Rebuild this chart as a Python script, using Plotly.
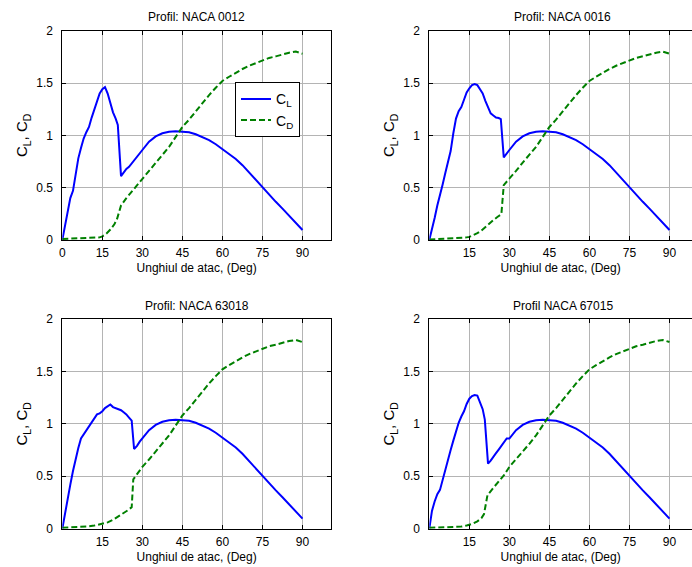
import plotly.graph_objects as go
from plotly.subplots import make_subplots

# ---------------- data ----------------
titles = ["Profil: NACA 0012", "Profil: NACA 0016", "Profil: NACA 63018", "Profil NACA 67015"]

# common post-stall part (alpha >= 30 deg)
alpha_tail = [30, 32.5, 35, 37.5, 40, 42.5, 45, 47.5, 50, 52.5, 55, 57.5, 60, 62.5, 65, 67.5,
              70, 72.5, 75, 77.5, 80, 82.5, 85, 87.5, 90]
cl_tail = [0.86, 0.94, 0.99, 1.02, 1.035, 1.04, 1.035, 1.03, 1.01, 0.985, 0.955, 0.915, 0.87,
           0.825, 0.775, 0.715, 0.645, 0.57, 0.495, 0.43, 0.365, 0.30, 0.235, 0.165, 0.096]
cd_tail = [0.59, 0.66, 0.74, 0.81, 0.89, 0.985, 1.08, 1.15, 1.23, 1.31, 1.385, 1.455, 1.52,
           1.56, 1.60, 1.634, 1.665, 1.69, 1.72, 1.74, 1.755, 1.775, 1.79, 1.80, 1.78]

# NACA 0012
alpha_cl_0012 = [0, 1, 2, 3, 4, 5, 6, 7, 8, 9, 10, 11, 12, 13, 14, 15, 16, 17, 18, 19, 20, 20.8,
                 22, 23, 24, 25, 26, 27, 28, 29]
cl_0012 = [0, 0.14, 0.28, 0.40, 0.47, 0.65, 0.78, 0.88, 0.97, 1.03, 1.08, 1.17, 1.25, 1.33, 1.40,
           1.44, 1.46, 1.40, 1.30, 1.22, 1.16, 1.10, 0.61, 0.65, 0.68, 0.70, 0.73, 0.77, 0.80, 0.83]
alpha_cd_0012 = [0, 3, 6, 9, 12, 14, 15, 16.5, 18, 19.5, 20.5, 21.2, 22, 24, 26, 28]
cd_0012 = [0.01, 0.012, 0.015, 0.018, 0.02, 0.025, 0.035, 0.06, 0.10, 0.15, 0.20, 0.26, 0.33,
           0.40, 0.46, 0.52]

# NACA 0016
alpha_cl_0016 = [0, 1, 2, 3, 4, 5, 6, 7, 8, 9, 10, 11, 12, 13, 14, 15, 16, 17, 18, 19, 20, 21,
                 22, 23, 24, 25, 26, 26.8, 27.9, 29]
cl_0016 = [0, 0.10, 0.21, 0.33, 0.42, 0.53, 0.64, 0.75, 0.85, 1.02, 1.16, 1.23, 1.27, 1.34, 1.41,
           1.45, 1.48, 1.49, 1.48, 1.44, 1.40, 1.33, 1.26, 1.21, 1.19, 1.17, 1.165, 1.155, 0.79, 0.83]
alpha_cd_0016 = [0, 3, 6, 9, 12, 14, 15, 16.5, 18, 19.5, 21, 22.5, 24, 25.5, 27, 27.9, 29]
cd_0016 = [0.005, 0.008, 0.012, 0.018, 0.02, 0.025, 0.03, 0.045, 0.065, 0.09, 0.125, 0.16, 0.19,
           0.22, 0.245, 0.525, 0.555]

# NACA 63018
alpha_cl_63018 = [0, 1, 2, 3, 4, 5, 6, 7, 8, 9, 10, 11, 12, 13, 14, 15, 16, 17, 18, 19, 20, 21,
                  22, 23, 24, 25, 26, 26.9, 28, 29]
cl_63018 = [0, 0.15, 0.30, 0.42, 0.55, 0.67, 0.77, 0.86, 0.90, 0.93, 0.97, 1.01, 1.05, 1.09, 1.10,
            1.12, 1.15, 1.17, 1.185, 1.16, 1.15, 1.14, 1.13, 1.11, 1.09, 1.06, 1.03, 0.76, 0.79, 0.83]
alpha_cd_63018 = [0, 3, 6, 9, 12, 15, 17, 19, 21, 23, 24.5, 26, 26.6, 28]
cd_63018 = [0.01, 0.012, 0.015, 0.02, 0.03, 0.045, 0.06, 0.085, 0.115, 0.15, 0.175, 0.205, 0.47,
            0.52]

# NACA 67015
alpha_cl_67015 = [0, 1, 2, 3, 4, 5, 6, 7, 8, 9, 10, 11, 12, 13, 14, 15, 16, 17, 18, 19, 20, 20.8,
                  22, 23, 24, 25, 26, 27, 28, 29]
cl_67015 = [0, 0.17, 0.26, 0.33, 0.37, 0.47, 0.56, 0.66, 0.75, 0.84, 0.93, 1.01, 1.07, 1.12, 1.19,
            1.24, 1.265, 1.275, 1.27, 1.21, 1.14, 1.04, 0.62, 0.65, 0.69, 0.72, 0.755, 0.79, 0.83, 0.86]
alpha_cd_67015 = [0, 3, 6, 9, 12, 14, 15, 16.5, 18, 19.5, 20.5, 21.2, 21.8, 24, 26, 28]
cd_67015 = [0.008, 0.01, 0.015, 0.018, 0.02, 0.03, 0.038, 0.05, 0.07, 0.1, 0.14, 0.22, 0.32, 0.39,
            0.45, 0.51]

x_ticks_first = [0, 15, 30, 45, 60, 75, 90]
x_ticks_other = [15, 30, 45, 60, 75, 90]
y_ticks = [0, 0.5, 1, 1.5, 2]
y_tick_text = ["0", "0.5", "1", "1.5", "2"]

profiles = [
    (alpha_cl_0012, cl_0012, alpha_cd_0012, cd_0012),
    (alpha_cl_0016, cl_0016, alpha_cd_0016, cd_0016),
    (alpha_cl_63018, cl_63018, alpha_cd_63018, cd_63018),
    (alpha_cl_67015, cl_67015, alpha_cd_67015, cd_67015),
]

# ---------------- figure ----------------
W, H = 692, 567
FONT = "Liberation Sans, Arial, sans-serif"
fig = make_subplots(rows=2, cols=2)

positions = [(1, 1), (1, 2), (2, 1), (2, 2)]
for i, ((acl, cl, acd, cd), (r, c)) in enumerate(zip(profiles, positions)):
    fig.add_trace(go.Scatter(x=acl + alpha_tail, y=cl + cl_tail, mode="lines",
                             line=dict(color="#0000ff", width=2),
                             name="C<sub>L</sub>", showlegend=(i == 0)), row=r, col=c)
    fig.add_trace(go.Scatter(x=acd + alpha_tail, y=cd + cd_tail, mode="lines",
                             line=dict(color="#008000", width=2, dash="6px,3px"),
                             name="C<sub>D</sub>", showlegend=(i == 0)), row=r, col=c)

# pixel geometry
left_L, right_L = 62.3, 331.0
left_R = 429.3
unit = (302.5 - 62.3) / 90.0
top_T, bot_T = 30.7, 240.0
top_B, bot_B = 319.0, 528.7

xdom = {1: [left_L / W, right_L / W], 2: [left_R / W, 1.0]}
xrng = {1: [0, (right_L - left_L) / unit], 2: [0, (W - left_R) / unit]}
ydom = {1: [1 - bot_T / H, 1 - top_T / H], 2: [1 - bot_B / H, 1 - top_B / H]}

for i, (r, c) in enumerate(positions):
    idx = "" if i == 0 else str(i + 1)
    fig.layout["xaxis" + idx].update(
        domain=xdom[c], range=xrng[c],
        tickvals=x_ticks_first if i == 0 else x_ticks_other,
        ticks="inside", ticklen=4, tickcolor="black",
        showline=True, linecolor="black", linewidth=1,
        mirror="ticks",
        showgrid=True, gridcolor="#b4b4b4", gridwidth=1,
        zeroline=False,
        tickfont=dict(family=FONT, size=12, color="black"),
        ticklabelstandoff=2,
        title=dict(text="Unghiul de atac, (Deg)", standoff=4,
                   font=dict(family=FONT, size=12, color="black")),
        automargin=False,
    )
    fig.layout["yaxis" + idx].update(
        domain=ydom[r], range=[0, 2],
        tickvals=y_ticks, ticktext=y_tick_text,
        ticks="inside", ticklen=4, tickcolor="black",
        showline=True, linecolor="black", linewidth=1,
        mirror="ticks" if c == 1 else False,
        showgrid=True, gridcolor="#b4b4b4", gridwidth=1,
        zeroline=False,
        tickfont=dict(family=FONT, size=12, color="black"),
        ticklabelstandoff=6,
        title=dict(text="C<sub>L</sub>, C<sub>D</sub>", standoff=4,
                   font=dict(family=FONT, size=15, color="black")),
        automargin=False,
    )

title_pos = [(196.5, 16.7), (562.7, 16.7), (196.5, 306.0), (562.7, 306.0)]
for t, (px, py) in zip(titles, title_pos):
    fig.add_annotation(text=t, x=px / W, y=1 - py / H, xref="paper", yref="paper",
                       showarrow=False, xanchor="center", yanchor="middle",
                       font=dict(family=FONT, size=12, color="black"))

fig.update_layout(
    width=W, height=H,
    margin=dict(l=0, r=0, t=0, b=0),
    paper_bgcolor="white", plot_bgcolor="white",
    font=dict(family=FONT, size=12, color="black"),
    legend=dict(x=235 / W, y=1 - 82.3 / H, xanchor="left", yanchor="top",
                bgcolor="white", bordercolor="black", borderwidth=1,
                font=dict(family=FONT, size=14, color="black"),
                itemwidth=30, tracegroupgap=0),
)

fig.write_html(
    "out.html",
    config={"displayModeBar": False},
    post_script="document.body.style.margin='0';document.body.style.overflow='hidden';",
)
